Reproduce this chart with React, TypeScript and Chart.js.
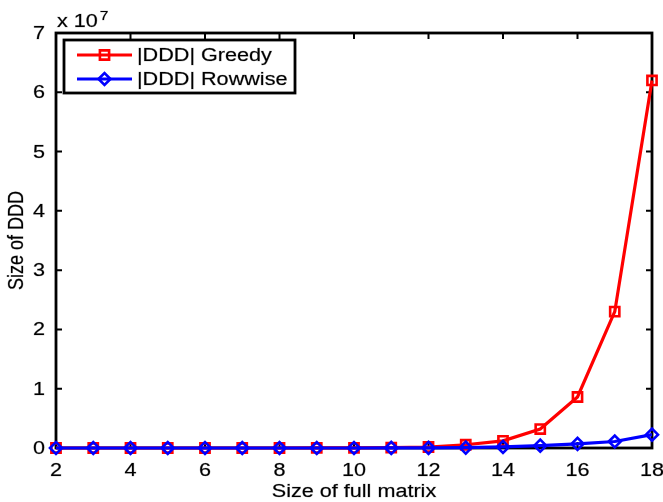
import React, { useEffect, useRef } from "react";
import { Chart, registerables } from "chart.js";

Chart.register(...registerables);

// ---- data ----
const matrixSizes = [2, 3, 4, 5, 6, 7, 8, 9, 10, 11, 12, 13, 14, 15, 16, 17, 18];
const greedySizes = [6, 20, 50, 150, 400, 1000, 3000, 8000, 20000, 60000, 170000, 550000, 1200000, 3200000, 8600000, 23000000, 62000000];
const rowwiseSizes = [2, 6, 15, 40, 100, 250, 600, 1500, 4000, 12000, 30000, 70000, 180000, 400000, 700000, 1100000, 2250000];
const seriesLabels = ["|DDD| Greedy", "|DDD| Rowwise"];
const seriesColors = ["#ff0000", "#0000ff"];
const xTickValues = [2, 4, 6, 8, 10, 12, 14, 16, 18];
const yTickValues = [0, 1, 2, 3, 4, 5, 6, 7];
const yScaleExponent = 7;
const xTitle = "Size of full matrix";
const yTitle = "Size of DDD";

const FONT_FAMILY = '"Liberation Sans", Arial, Helvetica, sans-serif';
const SX = 1.2; // horizontal stretch of the reference's text

function drawText(
  ctx: CanvasRenderingContext2D,
  text: string,
  x: number,
  y: number,
  align: CanvasTextAlign,
  baseline: CanvasTextBaseline,
  size: number,
  rotation = 0
) {
  ctx.save();
  ctx.translate(x, y);
  ctx.scale(SX, 1);
  if (rotation) ctx.rotate(rotation);
  ctx.font = `${size}px ${FONT_FAMILY}`;
  ctx.textAlign = align;
  ctx.textBaseline = baseline;
  ctx.fillStyle = "#000";
  ctx.strokeStyle = "rgba(0,0,0,0.35)";
  ctx.lineWidth = 0.6;
  ctx.strokeText(text, 0, 0);
  ctx.fillText(text, 0, 0);
  ctx.restore();
}

const matlabAxes = {
  id: "matlabAxes",
  beforeDatasetsDraw(chart: any) {
    const { ctx, chartArea, scales } = chart;
    const { left, right, top, bottom } = chartArea;
    ctx.save();
    ctx.strokeStyle = "#000";
    ctx.lineWidth = 2;
    ctx.beginPath();
    xTickValues.forEach((v) => {
      const px = scales.x.getPixelForValue(v);
      ctx.moveTo(px, bottom);
      ctx.lineTo(px, bottom - 6);
      ctx.moveTo(px, top);
      ctx.lineTo(px, top + 6);
    });
    yTickValues.forEach((v) => {
      const py = scales.y.getPixelForValue(v * Math.pow(10, yScaleExponent));
      ctx.moveTo(left, py);
      ctx.lineTo(left + 6, py);
      ctx.moveTo(right, py);
      ctx.lineTo(right - 6, py);
    });
    ctx.stroke();
    ctx.lineWidth = 2.8;
    ctx.strokeRect(left, top, right - left, bottom - top);
    ctx.restore();
  },
  afterDraw(chart: any) {
    const { ctx, chartArea, scales } = chart;
    const { left, right, top, bottom } = chartArea;

    // tick labels
    xTickValues.forEach((v) => {
      drawText(ctx, String(v), scales.x.getPixelForValue(v), bottom + 28, "center", "alphabetic", 18);
    });
    yTickValues.forEach((v) => {
      const py = scales.y.getPixelForValue(v * Math.pow(10, yScaleExponent));
      drawText(ctx, String(v), left - 11, py + 1, "right", "middle", 18);
    });

    // titles
    drawText(ctx, xTitle, (left + right) / 2, bottom + 49, "center", "alphabetic", 18);
    drawText(ctx, yTitle, 23, (top + bottom) / 2, "center", "alphabetic", 18, -Math.PI / 2);

    // exponent label
    ctx.save();
    ctx.font = `18px ${FONT_FAMILY}`;
    const baseW = ctx.measureText("x 10").width * SX;
    ctx.restore();
    drawText(ctx, "x 10", left + 1, top - 6, "left", "alphabetic", 18);
    drawText(ctx, String(yScaleExponent), left + 1 + baseW + 2, top - 13, "left", "alphabetic", 13);

    // legend
    const lx = left + 8;
    const ly = top + 7;
    const lw = 231;
    const lh = 53;
    ctx.save();
    ctx.fillStyle = "#fff";
    ctx.fillRect(lx, ly, lw, lh);
    ctx.strokeStyle = "#000";
    ctx.lineWidth = 2.8;
    ctx.strokeRect(lx, ly, lw, lh);
    chart.data.datasets.forEach((ds: any, i: number) => {
      const yy = ly + 15 + i * 24;
      const x0 = lx + 13;
      const x1 = lx + 68;
      const xm = (x0 + x1) / 2;
      ctx.strokeStyle = ds.borderColor;
      ctx.lineWidth = 3.2;
      ctx.beginPath();
      ctx.moveTo(x0, yy);
      ctx.lineTo(x1, yy);
      ctx.stroke();
      ctx.lineWidth = 2.6;
      ctx.beginPath();
      if (ds.pointStyle === "rect") {
        const s = ds.pointRadius * Math.SQRT1_2;
        ctx.rect(xm - s, yy - s, 2 * s, 2 * s);
      } else {
        const r = ds.pointRadius;
        ctx.moveTo(xm - r, yy);
        ctx.lineTo(xm, yy - r);
        ctx.lineTo(xm + r, yy);
        ctx.lineTo(xm, yy + r);
        ctx.closePath();
      }
      ctx.stroke();
      drawText(ctx, ds.label, lx + 73, yy + 1, "left", "middle", 18);
    });
    ctx.restore();
  },
};

export default function App() {
  const canvasRef = useRef<HTMLCanvasElement | null>(null);

  useEffect(() => {
    const canvas = canvasRef.current;
    if (!canvas) return;
    const chart = new Chart(canvas, {
      type: "line",
      data: {
        datasets: [
          {
            label: seriesLabels[0],
            data: matrixSizes.map((x, i) => ({ x, y: greedySizes[i] })),
            borderColor: seriesColors[0],
            borderWidth: 3.2,
            pointStyle: "rect",
            pointRadius: 6.5,
            pointBorderWidth: 2.6,
            pointBorderColor: seriesColors[0],
            pointBackgroundColor: "rgba(0,0,0,0)",
            clip: false as any,
            order: 2,
            tension: 0,
          },
          {
            label: seriesLabels[1],
            data: matrixSizes.map((x, i) => ({ x, y: rowwiseSizes[i] })),
            borderColor: seriesColors[1],
            borderWidth: 3.2,
            pointStyle: "rectRot",
            pointRadius: 6,
            pointBorderWidth: 2.6,
            pointBorderColor: seriesColors[1],
            pointBackgroundColor: "rgba(0,0,0,0)",
            clip: false as any,
            order: 1,
            tension: 0,
          },
        ] as any,
      },
      options: {
        animation: false,
        responsive: false,
        devicePixelRatio: 1,
        layout: { padding: { left: 56, top: 33, right: 11, bottom: 54 } },
        plugins: {
          legend: { display: false },
          tooltip: { enabled: false },
        },
        scales: {
          x: { type: "linear", min: 2, max: 18, display: false },
          y: { type: "linear", min: 0, max: 7 * Math.pow(10, yScaleExponent), display: false },
        },
      },
      plugins: [matlabAxes],
    });
    return () => chart.destroy();
  }, []);

  return (
    <div style={{ position: "fixed", left: 0, top: 0, width: 663, height: 502, background: "#fff" }}>
      <canvas ref={canvasRef} width={663} height={502} style={{ width: 663, height: 502 }} />
    </div>
  );
}
